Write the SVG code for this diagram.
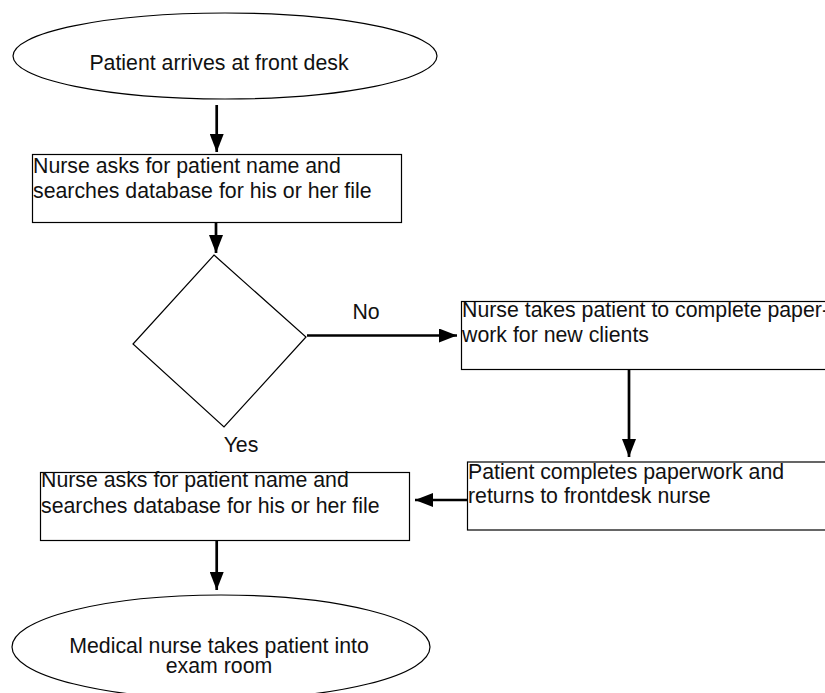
<svg xmlns="http://www.w3.org/2000/svg" width="825" height="693" viewBox="0 0 825 693">
  <style>
    .shape { fill: #ffffff; stroke: #000000; stroke-width: 1.2; }
    .label { font-family: "Liberation Sans", Arial, sans-serif; font-size: 21.3px; fill: #111111; }
    .mid { text-anchor: middle; }
    .edge { fill: none; stroke: #000000; stroke-width: 2.7; }
  </style>
  <defs>
    <marker id="head" viewBox="0 0 18 14" refX="18" refY="7" markerWidth="18" markerHeight="14" markerUnits="userSpaceOnUse" orient="auto">
      <path d="M0,0 L18,7 L0,14 Z" fill="#000000"/>
    </marker>
  </defs>
  <rect width="825" height="693" fill="#ffffff"/>

  <g id="start">
    <ellipse class="shape" cx="225" cy="56" rx="212" ry="43"/>
    <text class="label mid" x="219" y="69.5">Patient arrives at front desk</text>
  </g>

  <g id="lookup">
    <rect class="shape" x="32.5" y="154.5" width="369" height="68"/>
    <text class="label" x="33" y="172.5">Nurse asks for patient name and</text>
    <text class="label" x="33" y="197.5">searches database for his or her file</text>
  </g>

  <g id="decision">
    <polygon class="shape" points="214,255 306,337 224,427 133,344"/>
  </g>

  <g id="new-client">
    <rect class="shape" x="461.5" y="301.5" width="370" height="68"/>
    <text class="label" x="462" y="316.5">Nurse takes patient to complete paper-</text>
    <text class="label" x="462" y="342">work for new clients</text>
  </g>

  <g id="paperwork">
    <rect class="shape" x="467.5" y="462" width="370" height="68"/>
    <text class="label" x="468" y="479">Patient completes paperwork and</text>
    <text class="label" x="468" y="502.5">returns to frontdesk nurse</text>
  </g>

  <g id="lookup-again">
    <rect class="shape" x="40.5" y="472.5" width="369" height="68"/>
    <text class="label" x="41" y="487">Nurse asks for patient name and</text>
    <text class="label" x="41" y="512.5">searches database for his or her file</text>
  </g>

  <g id="exam">
    <ellipse class="shape" cx="221" cy="647" rx="209" ry="52"/>
    <text class="label mid" x="219" y="653">Medical nurse takes patient into</text>
    <text class="label mid" x="219" y="672.5">exam room</text>
  </g>

  <g id="connectors">
    <line class="edge" x1="216.7" y1="105" x2="216.7" y2="152" marker-end="url(#head)"/>
    <line class="edge" x1="216" y1="223" x2="216" y2="253" marker-end="url(#head)"/>
    <line class="edge" x1="307" y1="335.5" x2="457" y2="335.5" marker-end="url(#head)"/>
    <text class="label mid" x="366" y="319">No</text>
    <text class="label mid" x="241" y="452">Yes</text>
    <line class="edge" x1="629" y1="369.5" x2="629" y2="457" marker-end="url(#head)"/>
    <line class="edge" x1="467" y1="500" x2="415" y2="500" marker-end="url(#head)"/>
    <line class="edge" x1="216.7" y1="541" x2="216.7" y2="590" marker-end="url(#head)"/>
  </g>
</svg>
